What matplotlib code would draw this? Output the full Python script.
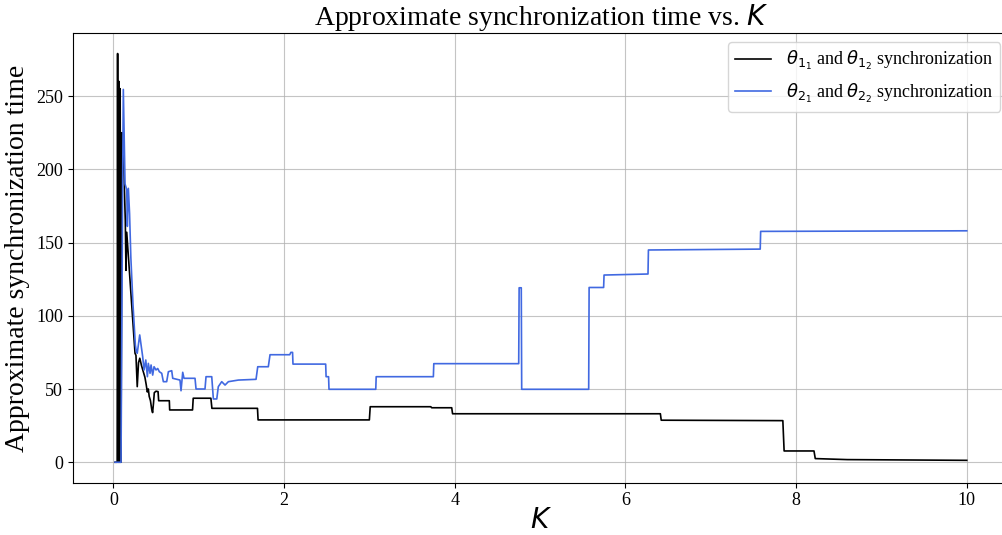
import matplotlib
matplotlib.use("Agg")
import matplotlib.pyplot as plt

plt.rcParams["font.family"] = ["Liberation Serif", "DejaVu Serif"]
plt.rcParams["mathtext.fontset"] = "dejavusans"

# Coupling strength K and the measured synchronization times (vertices of each trace)
k_theta1 = [0.02, 0.045, 0.05, 0.055, 0.06, 0.065, 0.07, 0.075, 0.08, 0.085, 0.09,
            0.1, 0.117, 0.14, 0.148, 0.157, 0.254, 0.265, 0.28, 0.295, 0.31, 0.33,
            0.35, 0.37, 0.385, 0.398, 0.41, 0.42, 0.435, 0.45, 0.46, 0.47, 0.48,
            0.5, 0.524, 0.531, 0.656, 0.66, 0.928, 0.936, 1.143, 1.155, 1.689,
            1.696, 3.0, 3.01, 3.72, 3.73, 3.965, 3.975, 6.41, 6.42, 7.845, 7.86,
            8.21, 8.225, 8.6, 10.0]
t_theta1 = [0, 0, 279, 0, 0, 260, 0, 0, 255, 0, 0,
            225, 213, 165, 131, 157, 74.4, 73, 51.6, 68, 71, 66,
            62, 58, 53, 48, 50, 45, 42, 36, 33.9, 40, 47.5,
            48.5, 48.2, 42, 42, 35.7, 35.7, 43.7, 43.7, 36.8, 36.8,
            28.9, 28.9, 37.9, 37.9, 37.2, 37.2, 33.1, 33.1, 28.7, 28.4, 7.7,
            7.7, 2.5, 1.8, 1.3]

k_theta2 = [0.02, 0.09, 0.11, 0.117, 0.137, 0.157, 0.164, 0.176, 0.19, 0.205, 0.23,
            0.258, 0.27, 0.28, 0.309, 0.328, 0.344, 0.36, 0.38, 0.399, 0.41, 0.43,
            0.442, 0.461, 0.477, 0.5, 0.52, 0.539, 0.567, 0.586, 0.625, 0.645,
            0.684, 0.696, 0.781, 0.793, 0.813, 0.828, 0.957, 0.969, 1.074, 1.086,
            1.153, 1.172, 1.212, 1.23, 1.27, 1.309, 1.348, 1.465, 1.672, 1.692,
            1.816, 1.836, 2.067, 2.08, 2.1, 2.105, 2.488, 2.493, 2.522, 2.527,
            3.075, 3.08, 3.75, 3.755, 4.75, 4.755, 4.78, 4.785, 5.57, 5.575, 5.745,
            5.75, 6.265, 6.27, 7.58, 7.585, 10.0]
t_theta2 = [0, 0, 200, 254.5, 190, 186, 161, 187, 170, 140, 108,
            80, 75.4, 74.4, 86.9, 78.8, 72, 63, 69.8, 58.4, 67.5, 60.7,
            66.4, 59.5, 65.2, 63, 64, 61.8, 60.7, 55, 55, 61.8,
            62.5, 57.3, 56.1, 48.8, 61.4, 57.3, 57.3, 50, 50, 58.4,
            58.4, 43.2, 43.2, 51.6, 55, 52.7, 55, 56.1, 56.6, 65.2,
            65.2, 73.4, 73.4, 75, 75, 67, 67, 58.4, 58.4, 49.8,
            49.8, 58.4, 58.4, 67.3, 67.3, 119.1, 119.1, 49.8, 49.8, 119.3, 119.3,
            127.8, 128.5, 144.9, 145.5, 157.6, 158]

x_ticks = [0, 2, 4, 6, 8, 10]
y_ticks = [0, 50, 100, 150, 200, 250]

fig = plt.figure(figsize=(10.03, 5.35), dpi=100)
ax = fig.add_axes([0.0725, 0.0978, 0.9339, 0.8403])

ax.plot(k_theta1, t_theta1, color="black", lw=1.2,
        label=r"$\theta_{1_1}$ and $\theta_{1_2}$ synchronization")
ax.plot(k_theta2, t_theta2, color="royalblue", lw=1.2,
        label=r"$\theta_{2_1}$ and $\theta_{2_2}$ synchronization")

ax.set_xlim(-0.476, 10.5)
ax.set_ylim(-13.95, 292.95)
ax.set_xticks(x_ticks)
ax.set_yticks(y_ticks)
ax.tick_params(labelsize=13)
ax.grid(True, alpha=0.75)

ax.set_title(r"Approximate synchronization time vs. $K$", fontsize=20)
ax.set_xlabel(r"$K$", fontsize=20, labelpad=0)
ax.set_ylabel("Approximate synchronization time", fontsize=20)
ax.legend(loc="upper right", fontsize=13)

fig.savefig("out.png", dpi=100)
